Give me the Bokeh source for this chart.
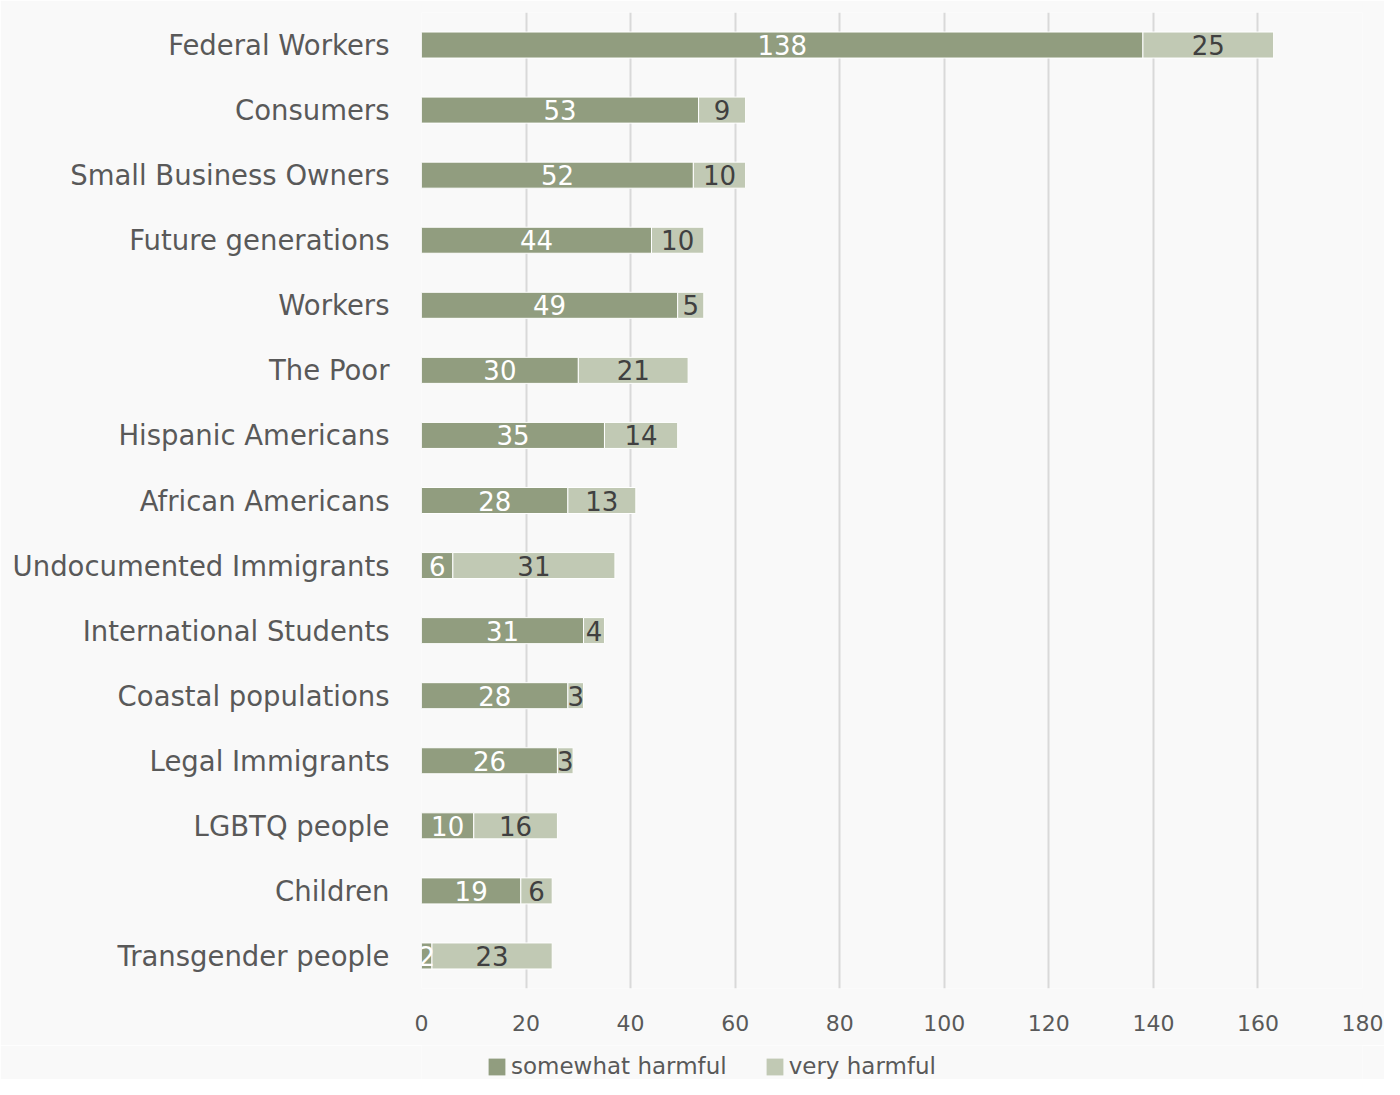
from bokeh.plotting import figure
from bokeh.layouts import column
from bokeh.models import ColumnDataSource, Range1d, FactorRange, Legend, LegendItem
from bokeh.core.properties import value
from bokeh.embed import file_html
from bokeh.resources import INLINE

categories = ["Federal Workers", "Consumers", "Small Business Owners", "Future generations",
              "Workers", "The Poor", "Hispanic Americans", "African Americans",
              "Undocumented Immigrants", "International Students", "Coastal populations",
              "Legal Immigrants", "LGBTQ people", "Children", "Transgender people"]
somewhat = [138, 53, 52, 44, 49, 30, 35, 28, 6, 31, 28, 26, 10, 19, 2]
very = [25, 9, 10, 10, 5, 21, 14, 13, 31, 4, 3, 3, 16, 6, 23]
series_names = ["somewhat harmful", "very harmful"]
x_ticks = [0, 20, 40, 60, 80, 100, 120, 140, 160, 180]

FONT = "DejaVu Sans"
C_SOME = "#919d7f"
C_VERY = "#c1c9b4"
BG = "#f9f9f9"

src = ColumnDataSource(dict(
    cat=categories,
    somewhat=somewhat,
    very=very,
    some_mid=[s / 2 for s in somewhat],
    very_mid=[s + v / 2 for s, v in zip(somewhat, very)],
    some_lbl=[str(s) for s in somewhat],
    very_lbl=[str(v) for v in very],
))

p = figure(width=1384, height=1045, output_backend="svg", toolbar_location=None,
           y_range=FactorRange(factors=list(reversed(categories)), range_padding=0),
           x_range=Range1d(0, 180),
           min_border_left=421, min_border_right=22, min_border_top=12, min_border_bottom=57)
p.background_fill_color = BG
p.border_fill_color = BG
p.outline_line_color = None

r = p.hbar_stack(["somewhat", "very"], y="cat", height=0.4, source=src,
                 color=[C_SOME, C_VERY], line_color="white", line_width=1)

p.text(x="some_mid", y="cat", text="some_lbl", source=src, text_align="center",
       text_baseline="middle", text_color="white", text_font=value(FONT),
       text_font_size="26px")
p.text(x="very_mid", y="cat", text="very_lbl", source=src, text_align="center",
       text_baseline="middle", text_color="#404040", text_font=value(FONT),
       text_font_size="26px")

p.xaxis.ticker = x_ticks
p.xaxis.axis_line_color = None
p.xaxis.major_tick_line_color = None
p.xaxis.minor_tick_line_color = None
p.xaxis.major_label_text_font = FONT
p.xaxis.major_label_text_font_size = "22px"
p.xaxis.major_label_text_color = "#595959"
p.xaxis.major_label_standoff = 20

p.yaxis.axis_line_color = None
p.yaxis.major_tick_line_color = None
p.yaxis.minor_tick_line_color = None
p.yaxis.major_label_text_font = FONT
p.yaxis.major_label_text_font_size = "27.5px"
p.yaxis.major_label_text_color = "#595959"
p.yaxis.major_label_standoff = 26

p.xgrid.grid_line_color = "#d9d9d9"
p.xgrid.grid_line_width = 2
p.ygrid.grid_line_color = None

# legend strip below the chart (hidden copies of the series feed the legend swatches)
lg = figure(width=1384, height=34, output_backend="svg", toolbar_location=None,
            x_range=Range1d(0, 180),
            y_range=FactorRange(factors=list(reversed(categories)), range_padding=0),
            x_axis_location=None, y_axis_location=None,
            min_border_left=0, min_border_right=0, min_border_top=0, min_border_bottom=0)
lg.background_fill_color = BG
lg.border_fill_color = BG
lg.outline_line_color = None
lg.grid.grid_line_color = None
g = lg.hbar_stack(["somewhat", "very"], y="cat", height=0.4, source=src,
                  color=[C_SOME, C_VERY], line_color=None)
for gr in g:
    gr.visible = False

legend = Legend(items=[LegendItem(label=series_names[0], renderers=[g[0]]),
                       LegendItem(label=series_names[1], renderers=[g[1]])],
                orientation="horizontal", location=(65, 0),
                padding=0, margin=0, spacing=37, label_standoff=4,
                glyph_width=21, glyph_height=21,
                border_line_alpha=0, background_fill_alpha=0,
                inactive_fill_alpha=0,
                label_text_font=FONT, label_text_font_size="23px",
                label_text_color="#595959")
lg.add_layout(legend, "center")

layout = column(p, lg, spacing=0)
open("out.html", "w").write(file_html(layout, INLINE))
